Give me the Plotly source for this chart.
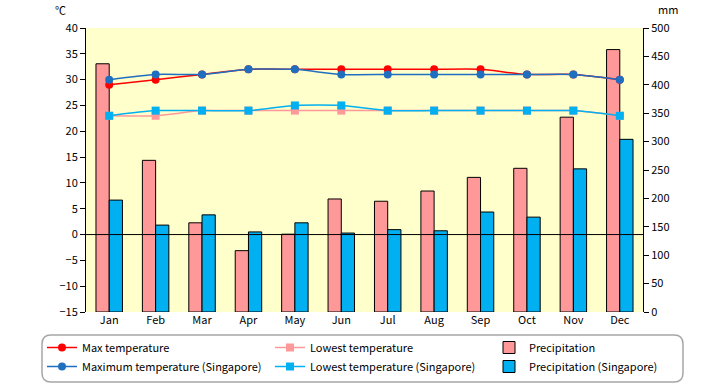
import plotly.graph_objects as go

months = ["Jan", "Feb", "Mar", "Apr", "May", "Jun", "Jul", "Aug", "Sep", "Oct", "Nov", "Dec"]
max_temp = [29, 30, 31, 32, 32, 32, 32, 32, 32, 31, 31, 30]
low_temp = [23, 23, 24, 24, 24, 24, 24, 24, 24, 24, 24, 23]
precip = [437, 267, 157, 108, 137, 199, 195, 213, 237, 253, 343, 462]
max_temp_sg = [30, 31, 31, 32, 32, 31, 31, 31, 31, 31, 31, 30]
low_temp_sg = [23, 24, 24, 24, 25, 25, 24, 24, 24, 24, 24, 23]
precip_sg = [197, 153, 171, 141, 157, 139, 145, 143, 176, 167, 252, 304]

FONT = "Noto Sans CJK JP"
PINK = "#FF9999"
BLUE = "#00B0F0"
RED = "#FF0000"
DBLUE = "#1F6FC0"

fig = go.Figure()
fig.add_trace(go.Bar(x=months, y=precip, name="Precipitation", yaxis="y", legend="legend3",
                     legendgroup="p", marker=dict(color=PINK, line=dict(color="black", width=1)), legendrank=1))
fig.add_trace(go.Bar(x=months, y=precip_sg, name="Precipitation (Singapore)", yaxis="y", legend="legend3",
                     legendgroup="psg", marker=dict(color=BLUE, line=dict(color="black", width=1)), legendrank=2))
fig.add_trace(go.Scatter(x=months, y=low_temp, name="Lowest temperature", yaxis="y2", legend="legend2",
                         legendgroup="l", legendrank=1,
                         mode="lines+markers", line=dict(color=PINK, width=1.5, shape="spline", smoothing=0.6),
                         marker=dict(symbol="square", size=8, color=PINK)))
fig.add_trace(go.Scatter(x=months, y=low_temp_sg, name="Lowest temperature (Singapore)", yaxis="y2", legend="legend2",
                         legendgroup="lsg", legendrank=2,
                         mode="lines+markers", line=dict(color=BLUE, width=1.5, shape="spline", smoothing=0.6),
                         marker=dict(symbol="square", size=8, color=BLUE)))
fig.add_trace(go.Scatter(x=months, y=max_temp, name="Max temperature", yaxis="y2", legend="legend",
                         legendgroup="m", legendrank=1,
                         mode="lines+markers", line=dict(color=RED, width=1.5, shape="spline", smoothing=0.6),
                         marker=dict(symbol="circle", size=8, color=RED)))
fig.add_trace(go.Scatter(x=months, y=max_temp_sg, name="Maximum temperature (Singapore)", yaxis="y2", legend="legend",
                         legendgroup="msg", legendrank=2,
                         mode="lines+markers", line=dict(color=DBLUE, width=1.5, shape="spline", smoothing=0.6),
                         marker=dict(symbol="circle", size=8, color=DBLUE)))

# rounded legend frame in paper coords
x0, x1 = (42 - 86) / 557, (683 - 86) / 557
y0, y1 = (312 - 382) / 284, (312 - 335) / 284
rx, ry = 9 / 557, 9 / 284
path = (f"M {x0+rx} {y1} L {x1-rx} {y1} Q {x1} {y1} {x1} {y1-ry} L {x1} {y0+ry} "
        f"Q {x1} {y0} {x1-rx} {y0} L {x0+rx} {y0} Q {x0} {y0} {x0} {y0+ry} "
        f"L {x0} {y1-ry} Q {x0} {y1} {x0+rx} {y1} Z")


def leg(px):
    return dict(orientation="v", x=(px - 86) / 557, xanchor="left", y=(312 - 333) / 284, yanchor="top",
                bgcolor="rgba(0,0,0,0)", font=dict(family=FONT, size=11), tracegroupgap=6,
                traceorder="normal")


fig.update_layout(
    width=720, height=385,
    margin=dict(l=86, r=77, t=28, b=73, autoexpand=False),
    paper_bgcolor="white", plot_bgcolor="#FFFFCC",
    font=dict(family=FONT, size=11, color="black"),
    barmode="group", bargap=0.43, bargroupgap=0,
    showlegend=True,
    legend=leg(42), legend2=leg(270), legend3=leg(489),
    xaxis=dict(showgrid=False, showline=False, ticks="", tickfont=dict(size=11),
               range=[-0.5, len(months) - 0.5]),
    yaxis=dict(range=[0, 500], dtick=50, side="right", showgrid=False, zeroline=False,
               showline=True, linecolor="black", linewidth=1, ticks="outside", ticklen=5,
               tickcolor="black"),
    yaxis2=dict(range=[-15, 40], dtick=5, side="left", overlaying="y", showgrid=False, zeroline=False,
                showline=True, linecolor="black", linewidth=1, ticks="outside", ticklen=5,
                tickcolor="black", tickformat="d"),
    shapes=[
        dict(type="line", xref="paper", x0=0, x1=1, yref="y2", y0=0, y1=0,
             line=dict(color="black", width=1), layer="above"),
        dict(type="path", xref="paper", yref="paper", path=path,
             line=dict(color="#A6A6A6", width=1.5), fillcolor="white", layer="below"),
    ],
    annotations=[
        dict(text="℃", xref="paper", yref="paper", x=(60 - 86) / 557, y=(312 - 10) / 284,
             xanchor="center", yanchor="middle", showarrow=False, font=dict(size=11)),
        dict(text="mm", xref="paper", yref="paper", x=(668 - 86) / 557, y=(312 - 9) / 284,
             xanchor="center", yanchor="middle", showarrow=False, font=dict(size=11)),
    ],
)

fig.write_html("out.html", config={"displayModeBar": False},
               post_script="document.body.style.margin='0';document.body.style.padding='0';")
